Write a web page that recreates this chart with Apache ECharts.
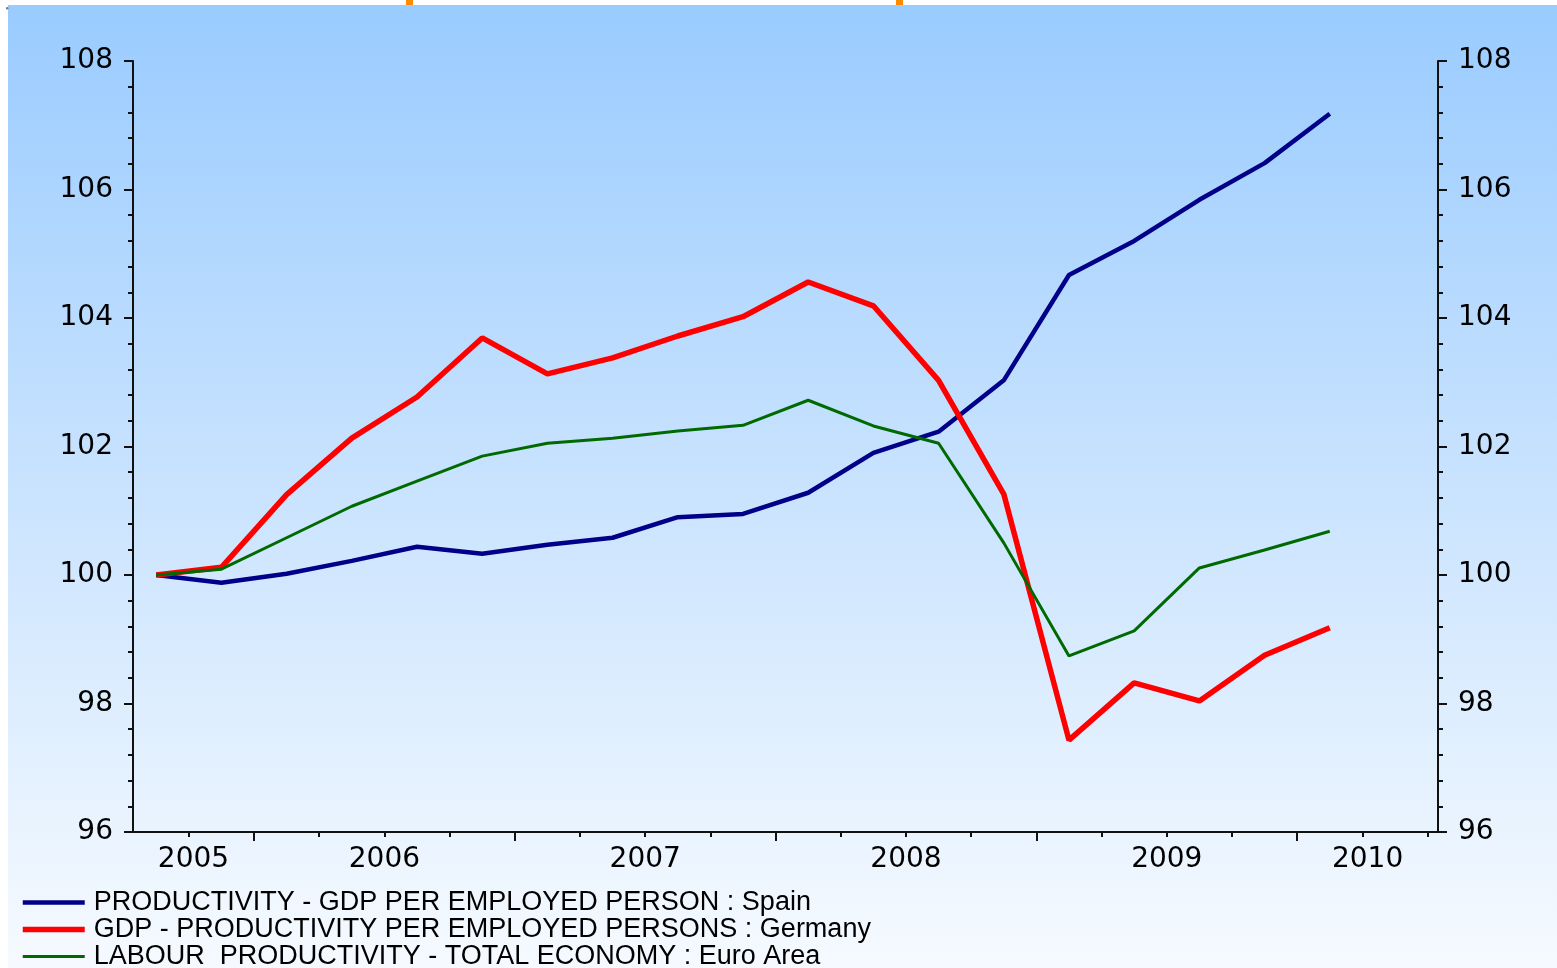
<!DOCTYPE html>
<html>
<head>
<meta charset="utf-8">
<title>Labour productivity: Spain, Germany, Euro Area</title>
<script src="https://cdn.jsdelivr.net/npm/echarts@6/dist/echarts.min.js"></script>
<style>
  html, body { margin: 0; padding: 0; background: #ffffff; }
  #chart { width: 1557px; height: 968px; }
</style>
</head>
<body>
<div id="chart"></div>
<script>
// Quarterly observations (index, 2005Q3 = 100)
const quarters = [
  '2005Q3', '2005Q4',
  '2006Q1', '2006Q2', '2006Q3', '2006Q4',
  '2007Q1', '2007Q2', '2007Q3', '2007Q4',
  '2008Q1', '2008Q2', '2008Q3', '2008Q4',
  '2009Q1', '2009Q2', '2009Q3', '2009Q4',
  '2010Q1'
];
const spain = [100.00, 99.88, 100.02, 100.22, 100.44, 100.33, 100.47, 100.58, 100.90, 100.95,
               101.28, 101.90, 102.23, 103.03, 104.67, 105.20, 105.84, 106.41, 107.18];
const germany = [100.00, 100.12, 101.25, 102.13, 102.77, 103.69, 103.13, 103.38, 103.72, 104.02,
                 104.56, 104.19, 103.03, 101.26, 97.43, 98.32, 98.04, 98.75, 99.18];
const euroArea = [100.00, 100.09, 100.58, 101.07, 101.46, 101.85, 102.05, 102.13, 102.24, 102.33,
                  102.72, 102.32, 102.05, 100.50, 98.74, 99.13, 100.11, 100.39, 100.68];

const seriesNames = [
  'PRODUCTIVITY - GDP PER EMPLOYED PERSON : Spain',
  'GDP - PRODUCTIVITY PER EMPLOYED PERSONS : Germany',
  'LABOUR  PRODUCTIVITY - TOTAL ECONOMY : Euro Area'
];
const seriesColors = ['#000088', '#ff0000', '#006a00'];
const seriesWidths = [4.5, 5.5, 3];

const yearLabels = [2005, 2006, 2007, 2008, 2009, 2010];
const yMin = 96, yMax = 108, yStep = 2;

// Time axis in fractional years; each quarter is plotted at its midpoint
const xMin = 2005.536, xMax = 2010.54;
function quarterToX(q) {
  const year = parseInt(q.slice(0, 4), 10);
  const qn = parseInt(q.slice(5), 10);
  return year + (qn - 0.5) / 4;
}
const xs = quarters.map(quarterToX);
const pairs = (vals) => vals.map((v, i) => [xs[i], v]);

// Quarter boundaries (short ticks) and year boundaries (long ticks)
const quarterTicks = [];
for (let t = Math.ceil(xMin * 4) / 4; t <= xMax + 1e-9; t += 0.25) quarterTicks.push(+t.toFixed(2));
const yearTicks = yearLabels.filter(y => y > xMin && y < xMax);
// Year labels sit in the middle of the visible part of each year
const yearLabelPos = yearLabels.map(y => (Math.max(y, xMin) + Math.min(y + 1, xMax)) / 2);

const axisColor = '#111111';
const axisFont = { fontFamily: 'DejaVu Sans', fontSize: 28, color: '#000000' };

function valueAxis(position) {
  return {
    type: 'value', gridIndex: 0, position: position,
    min: yMin, max: yMax, interval: yStep,
    axisLine: { show: true, lineStyle: { color: axisColor, width: 2 } },
    axisTick: { show: true, inside: false, length: 9, lineStyle: { color: axisColor, width: 2 } },
    minorTick: { show: true, splitNumber: 5, length: 5, lineStyle: { color: axisColor, width: 2 } },
    axisLabel: Object.assign({ margin: 20 }, axisFont),
    splitLine: { show: false },
    minorSplitLine: { show: false }
  };
}

const gridRect = { left: 133, right: 119, top: 61, bottom: 136 };

const chart = echarts.init(document.getElementById('chart'), null, { renderer: 'canvas' });
chart.setOption({
  animation: false,
  backgroundColor: new echarts.graphic.LinearGradient(0, 0, 0, 1, [
    { offset: 0, color: '#99cbff' },
    { offset: 0.5, color: '#c9e3fe' },
    { offset: 1, color: '#f6faff' }
  ]),
  graphic: [
    { type: 'rect', left: 0, top: 0, shape: { width: 1557, height: 5 }, style: { fill: '#ffffff' } },
    { type: 'rect', left: 0, top: 0, shape: { width: 8, height: 968 }, style: { fill: '#ffffff' } },
    { type: 'rect', left: 406, top: 0, shape: { width: 7, height: 5 }, style: { fill: '#ff8a00' } },
    { type: 'rect', left: 896, top: 0, shape: { width: 7, height: 5 }, style: { fill: '#ff8a00' } },
    { type: 'circle', left: 6, top: 7, shape: { r: 1.2 }, style: { fill: '#777777' } }
  ],
  grid: [
    Object.assign({ containLabel: false }, gridRect),
    Object.assign({ containLabel: false }, gridRect)
  ],
  xAxis: [
    {
      type: 'value', gridIndex: 0, position: 'bottom',
      min: xMin, max: xMax,
      axisLine: { show: true, onZero: false, lineStyle: { color: axisColor, width: 2 } },
      axisTick: { show: true, length: 5, customValues: quarterTicks, lineStyle: { color: axisColor, width: 2 } },
      axisLabel: Object.assign({
        margin: 14,
        customValues: yearLabelPos,
        formatter: (v) => String(Math.floor(v + 1e-6))
      }, axisFont),
      splitLine: { show: false }
    },
    {
      type: 'value', gridIndex: 1, position: 'bottom',
      min: xMin, max: xMax,
      axisLine: { show: false, onZero: false },
      axisTick: { show: true, length: 9, customValues: yearTicks, lineStyle: { color: axisColor, width: 2 } },
      axisLabel: { show: false },
      splitLine: { show: false }
    }
  ],
  yAxis: [
    valueAxis('left'),
    valueAxis('right'),
    { type: 'value', gridIndex: 1, show: false, min: yMin, max: yMax }
  ],
  legend: {
    orient: 'vertical',
    left: 20, top: 889,
    width: 1000, height: 150,
    padding: 0,
    itemGap: 0,
    itemWidth: 62,
    itemHeight: 2,
    selectedMode: false,
    data: seriesNames.map((name, i) => ({
      name: name,
      lineStyle: { color: seriesColors[i], width: seriesWidths[i] }
    })),
    textStyle: {
      fontFamily: 'Liberation Sans',
      fontSize: 27,
      color: '#000000',
      lineHeight: 26,
      padding: [0, 0, 0, 4]
    }
  },
  series: [spain, germany, euroArea].map((vals, i) => ({
    name: seriesNames[i],
    type: 'line',
    xAxisIndex: 0, yAxisIndex: 0,
    data: pairs(vals),
    showSymbol: false,
    symbol: 'circle',
    color: seriesColors[i],
    lineStyle: { color: seriesColors[i], width: seriesWidths[i] },
    silent: true,
    z: 2 + i
  }))
});
</script>
</body>
</html>
